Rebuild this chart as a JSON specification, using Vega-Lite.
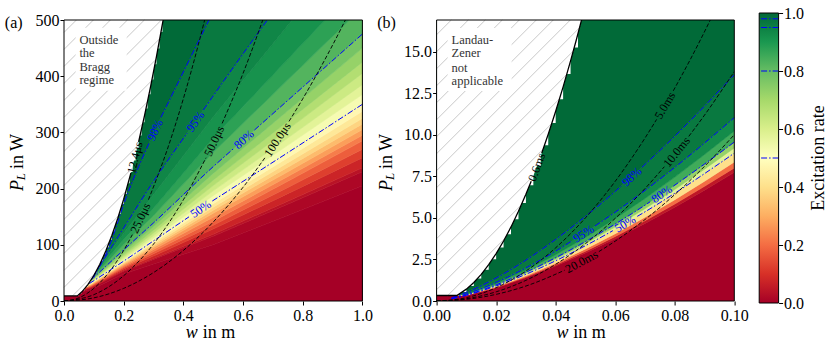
{
"$schema":"https://vega.github.io/schema/vega-lite/v6.json",
"background":"white",
"padding":{"left":4,"top":5,"right":0,"bottom":0},
"bounds":"flush",
"center":true,
"spacing":24.6,
"config":{"view":{"stroke":null},"font":"Liberation Serif","text":{"font":"Liberation Serif"},"axis":{"domain":false,"grid":false,"ticks":true,"tickColor":"#000","tickSize":4,"tickWidth":1,"labelFont":"Liberation Serif","labelFontSize":16,"labelColor":"#000","labelPadding":1,"labelFlush":false,"labelOverlap":false,"labelBound":false}},
"datasets":{
"bandA":[
{"b":0,"w":0,"l":-50,"h":9.5,"v":0},{"b":0,"w":0.09,"l":-50,"h":20,"v":0},{"b":0,"w":0.2,"l":-50,"h":48,"v":0},{"b":0,"w":0.3,"l":-50,"h":66,"v":0},{"b":0,"w":0.5,"l":-50,"h":100,"v":0},{"b":0,"w":0.75,"l":-50,"h":152,"v":0},{"b":0,"w":1,"l":-50,"h":205,"v":0},
{"b":1,"w":0,"l":9.5,"h":9.5,"v":0.015},{"b":1,"w":0.09,"l":20,"h":23,"v":0.015},{"b":1,"w":0.2,"l":48,"h":53,"v":0.015},{"b":1,"w":0.3,"l":66,"h":74,"v":0.015},{"b":1,"w":0.5,"l":100,"h":115,"v":0.015},{"b":1,"w":0.75,"l":152,"h":172,"v":0.015},{"b":1,"w":1,"l":205,"h":230,"v":0.015},
{"b":2,"w":0,"l":9.5,"h":9.5,"v":0.04},{"b":2,"w":0.09,"l":23,"h":23.6,"v":0.04},{"b":2,"w":0.2,"l":53,"h":54.1,"v":0.04},{"b":2,"w":0.3,"l":74,"h":75.7,"v":0.04},{"b":2,"w":0.5,"l":115,"h":118.7,"v":0.04},{"b":2,"w":0.75,"l":172,"h":177.4,"v":0.04},{"b":2,"w":1,"l":230,"h":237.1,"v":0.04},
{"b":3,"w":0,"l":9.5,"h":9.5,"v":0.075},{"b":3,"w":0.09,"l":23.6,"h":25,"v":0.075},{"b":3,"w":0.2,"l":54.1,"h":57,"v":0.075},{"b":3,"w":0.3,"l":75.7,"h":80,"v":0.075},{"b":3,"w":0.5,"l":118.7,"h":128,"v":0.075},{"b":3,"w":0.75,"l":177.4,"h":191,"v":0.075},{"b":3,"w":1,"l":237.1,"h":255,"v":0.075},
{"b":4,"w":0,"l":9.5,"h":9.5,"v":0.125},{"b":4,"w":0.09,"l":25,"h":26,"v":0.125},{"b":4,"w":0.2,"l":57,"h":59,"v":0.125},{"b":4,"w":0.3,"l":80,"h":84,"v":0.125},{"b":4,"w":0.5,"l":128,"h":135,"v":0.125},{"b":4,"w":0.75,"l":191,"h":202,"v":0.125},{"b":4,"w":1,"l":255,"h":270,"v":0.125},
{"b":5,"w":0,"l":9.5,"h":9.5,"v":0.175},{"b":5,"w":0.09,"l":26,"h":27,"v":0.175},{"b":5,"w":0.2,"l":59,"h":61,"v":0.175},{"b":5,"w":0.3,"l":84,"h":88,"v":0.175},{"b":5,"w":0.5,"l":135,"h":142,"v":0.175},{"b":5,"w":0.75,"l":202,"h":213,"v":0.175},{"b":5,"w":1,"l":270,"h":285,"v":0.175},
{"b":6,"w":0,"l":9.5,"h":9.5,"v":0.225},{"b":6,"w":0.09,"l":27,"h":28,"v":0.225},{"b":6,"w":0.2,"l":61,"h":63,"v":0.225},{"b":6,"w":0.3,"l":88,"h":91.5,"v":0.225},{"b":6,"w":0.5,"l":142,"h":149,"v":0.225},{"b":6,"w":0.75,"l":213,"h":221.5,"v":0.225},{"b":6,"w":1,"l":285,"h":295,"v":0.225},
{"b":7,"w":0,"l":9.5,"h":9.5,"v":0.275},{"b":7,"w":0.09,"l":28,"h":29,"v":0.275},{"b":7,"w":0.2,"l":63,"h":65,"v":0.275},{"b":7,"w":0.3,"l":91.5,"h":95,"v":0.275},{"b":7,"w":0.5,"l":149,"h":156,"v":0.275},{"b":7,"w":0.75,"l":221.5,"h":230,"v":0.275},{"b":7,"w":1,"l":295,"h":305,"v":0.275},
{"b":8,"w":0,"l":9.5,"h":9.5,"v":0.325},{"b":8,"w":0.09,"l":29,"h":29.75,"v":0.325},{"b":8,"w":0.2,"l":65,"h":66.5,"v":0.325},{"b":8,"w":0.3,"l":95,"h":98,"v":0.325},{"b":8,"w":0.5,"l":156,"h":161.5,"v":0.325},{"b":8,"w":0.75,"l":230,"h":238,"v":0.325},{"b":8,"w":1,"l":305,"h":315,"v":0.325},
{"b":9,"w":0,"l":9.5,"h":9.5,"v":0.375},{"b":9,"w":0.09,"l":29.75,"h":30.5,"v":0.375},{"b":9,"w":0.2,"l":66.5,"h":68,"v":0.375},{"b":9,"w":0.3,"l":98,"h":101,"v":0.375},{"b":9,"w":0.5,"l":161.5,"h":167,"v":0.375},{"b":9,"w":0.75,"l":238,"h":246,"v":0.375},{"b":9,"w":1,"l":315,"h":325,"v":0.375},
{"b":10,"w":0,"l":9.5,"h":9.5,"v":0.425},{"b":10,"w":0.09,"l":30.5,"h":31.25,"v":0.425},{"b":10,"w":0.2,"l":68,"h":69.5,"v":0.425},{"b":10,"w":0.3,"l":101,"h":104,"v":0.425},{"b":10,"w":0.5,"l":167,"h":173,"v":0.425},{"b":10,"w":0.75,"l":246,"h":255,"v":0.425},{"b":10,"w":1,"l":325,"h":337.5,"v":0.425},
{"b":11,"w":0,"l":9.5,"h":9.5,"v":0.475},{"b":11,"w":0.09,"l":31.25,"h":32,"v":0.475},{"b":11,"w":0.2,"l":69.5,"h":71,"v":0.475},{"b":11,"w":0.3,"l":104,"h":107,"v":0.475},{"b":11,"w":0.5,"l":173,"h":179,"v":0.475},{"b":11,"w":0.75,"l":255,"h":264,"v":0.475},{"b":11,"w":1,"l":337.5,"h":350,"v":0.475},
{"b":12,"w":0,"l":9.5,"h":9.5,"v":0.525},{"b":12,"w":0.09,"l":32,"h":33,"v":0.525},{"b":12,"w":0.2,"l":71,"h":74,"v":0.525},{"b":12,"w":0.3,"l":107,"h":111.5,"v":0.525},{"b":12,"w":0.5,"l":179,"h":187.5,"v":0.525},{"b":12,"w":0.75,"l":264,"h":277,"v":0.525},{"b":12,"w":1,"l":350,"h":367.5,"v":0.525},
{"b":13,"w":0,"l":9.5,"h":9.5,"v":0.575},{"b":13,"w":0.09,"l":33,"h":34,"v":0.575},{"b":13,"w":0.2,"l":74,"h":77,"v":0.575},{"b":13,"w":0.3,"l":111.5,"h":116,"v":0.575},{"b":13,"w":0.5,"l":187.5,"h":196,"v":0.575},{"b":13,"w":0.75,"l":277,"h":290,"v":0.575},{"b":13,"w":1,"l":367.5,"h":385,"v":0.575},
{"b":14,"w":0,"l":9.5,"h":9.5,"v":0.625},{"b":14,"w":0.09,"l":34,"h":35,"v":0.625},{"b":14,"w":0.2,"l":77,"h":80,"v":0.625},{"b":14,"w":0.3,"l":116,"h":121,"v":0.625},{"b":14,"w":0.5,"l":196,"h":205.5,"v":0.625},{"b":14,"w":0.75,"l":290,"h":305,"v":0.625},{"b":14,"w":1,"l":385,"h":405,"v":0.625},
{"b":15,"w":0,"l":9.5,"h":9.5,"v":0.675},{"b":15,"w":0.09,"l":35,"h":36,"v":0.675},{"b":15,"w":0.2,"l":80,"h":83,"v":0.675},{"b":15,"w":0.3,"l":121,"h":126,"v":0.675},{"b":15,"w":0.5,"l":205.5,"h":215,"v":0.675},{"b":15,"w":0.75,"l":305,"h":320,"v":0.675},{"b":15,"w":1,"l":405,"h":425,"v":0.675},
{"b":16,"w":0,"l":9.5,"h":9.5,"v":0.725},{"b":16,"w":0.09,"l":36,"h":37,"v":0.725},{"b":16,"w":0.2,"l":83,"h":87,"v":0.725},{"b":16,"w":0.3,"l":126,"h":132.5,"v":0.725},{"b":16,"w":0.5,"l":215,"h":227,"v":0.725},{"b":16,"w":0.75,"l":320,"h":338.5,"v":0.725},{"b":16,"w":1,"l":425,"h":450,"v":0.725},
{"b":17,"w":0,"l":9.5,"h":9.5,"v":0.775},{"b":17,"w":0.09,"l":37,"h":38,"v":0.775},{"b":17,"w":0.2,"l":87,"h":91,"v":0.775},{"b":17,"w":0.3,"l":132.5,"h":139,"v":0.775},{"b":17,"w":0.5,"l":227,"h":239,"v":0.775},{"b":17,"w":0.75,"l":338.5,"h":357,"v":0.775},{"b":17,"w":1,"l":450,"h":475,"v":0.775},
{"b":18,"w":0,"l":9.5,"h":9.5,"v":0.825},{"b":18,"w":0.09,"l":38,"h":39,"v":0.825},{"b":18,"w":0.2,"l":91,"h":100.5,"v":0.825},{"b":18,"w":0.3,"l":139,"h":152,"v":0.825},{"b":18,"w":0.5,"l":239,"h":264.5,"v":0.825},{"b":18,"w":0.75,"l":357,"h":393.5,"v":0.825},{"b":18,"w":1,"l":475,"h":522.5,"v":0.825},
{"b":19,"w":0,"l":9.5,"h":9.5,"v":0.875},{"b":19,"w":0.09,"l":39,"h":40,"v":0.875},{"b":19,"w":0.2,"l":100.5,"h":110,"v":0.875},{"b":19,"w":0.3,"l":152,"h":165,"v":0.875},{"b":19,"w":0.5,"l":264.5,"h":290,"v":0.875},{"b":19,"w":0.75,"l":393.5,"h":430,"v":0.875},{"b":19,"w":1,"l":522.5,"h":570,"v":0.875},
{"b":20,"w":0,"l":9.5,"h":9.5,"v":0.9125},{"b":20,"w":0.09,"l":40,"h":40.5,"v":0.9125},{"b":20,"w":0.2,"l":110,"h":120,"v":0.9125},{"b":20,"w":0.3,"l":165,"h":189,"v":0.9125},{"b":20,"w":0.5,"l":290,"h":327.5,"v":0.9125},{"b":20,"w":0.75,"l":430,"h":490,"v":0.9125},{"b":20,"w":1,"l":570,"h":655,"v":0.9125},
{"b":21,"w":0,"l":9.5,"h":9.5,"v":0.9375},{"b":21,"w":0.09,"l":40.5,"h":41,"v":0.9375},{"b":21,"w":0.2,"l":120,"h":130,"v":0.9375},{"b":21,"w":0.3,"l":189,"h":213,"v":0.9375},{"b":21,"w":0.5,"l":327.5,"h":365,"v":0.9375},{"b":21,"w":0.75,"l":490,"h":550,"v":0.9375},{"b":21,"w":1,"l":655,"h":740,"v":0.9375},
{"b":22,"w":0,"l":9.5,"h":9.5,"v":0.965},{"b":22,"w":0.09,"l":41,"h":44,"v":0.965},{"b":22,"w":0.2,"l":130,"h":172,"v":0.965},{"b":22,"w":0.3,"l":213,"h":300,"v":0.965},{"b":22,"w":0.5,"l":365,"h":515,"v":0.965},{"b":22,"w":0.75,"l":550,"h":800,"v":0.965},{"b":22,"w":1,"l":740,"h":1090,"v":0.965},
{"b":23,"w":0,"l":9.5,"h":2000,"v":0.995},{"b":23,"w":0.09,"l":44,"h":2000,"v":0.995},{"b":23,"w":0.2,"l":172,"h":2000,"v":0.995},{"b":23,"w":0.3,"l":300,"h":2000,"v":0.995},{"b":23,"w":0.5,"l":515,"h":2000,"v":0.995},{"b":23,"w":0.75,"l":800,"h":2000,"v":0.995},{"b":23,"w":1,"l":1090,"h":2000,"v":0.995}
],
"bandB":[
{"b":0,"w":0,"l":-5,"h":0.33,"v":0},{"b":0,"w":0.01,"l":-5,"h":0.34,"v":0},{"b":0,"w":0.02,"l":-5,"h":0.787,"v":0},{"b":0,"w":0.03,"l":-5,"h":1.399,"v":0},{"b":0,"w":0.04,"l":-5,"h":2.107,"v":0},{"b":0,"w":0.05,"l":-5,"h":2.894,"v":0},{"b":0,"w":0.06,"l":-5,"h":3.748,"v":0},{"b":0,"w":0.07,"l":-5,"h":4.666,"v":0},{"b":0,"w":0.08,"l":-5,"h":5.637,"v":0},{"b":0,"w":0.09,"l":-5,"h":6.666,"v":0},{"b":0,"w":0.1,"l":-5,"h":7.736,"v":0},
{"b":1,"w":0,"l":0.33,"h":0.33,"v":0.05},{"b":1,"w":0.01,"l":0.34,"h":0.35,"v":0.05},{"b":1,"w":0.02,"l":0.787,"h":0.815,"v":0.05},{"b":1,"w":0.03,"l":1.399,"h":1.447,"v":0.05},{"b":1,"w":0.04,"l":2.107,"h":2.18,"v":0.05},{"b":1,"w":0.05,"l":2.894,"h":2.993,"v":0.05},{"b":1,"w":0.06,"l":3.748,"h":3.877,"v":0.05},{"b":1,"w":0.07,"l":4.666,"h":4.827,"v":0.05},{"b":1,"w":0.08,"l":5.637,"h":5.831,"v":0.05},{"b":1,"w":0.09,"l":6.666,"h":6.896,"v":0.05},{"b":1,"w":0.1,"l":7.736,"h":8.003,"v":0.05},
{"b":2,"w":0,"l":0.33,"h":0.33,"v":0.2},{"b":2,"w":0.01,"l":0.35,"h":0.36,"v":0.2},{"b":2,"w":0.02,"l":0.815,"h":0.851,"v":0.2},{"b":2,"w":0.03,"l":1.447,"h":1.512,"v":0.2},{"b":2,"w":0.04,"l":2.18,"h":2.277,"v":0.2},{"b":2,"w":0.05,"l":2.993,"h":3.126,"v":0.2},{"b":2,"w":0.06,"l":3.877,"h":4.05,"v":0.2},{"b":2,"w":0.07,"l":4.827,"h":5.041,"v":0.2},{"b":2,"w":0.08,"l":5.831,"h":6.09,"v":0.2},{"b":2,"w":0.09,"l":6.896,"h":7.202,"v":0.2},{"b":2,"w":0.1,"l":8.003,"h":8.358,"v":0.2},
{"b":3,"w":0,"l":0.33,"h":0.33,"v":0.4},{"b":3,"w":0.01,"l":0.36,"h":0.37,"v":0.4},{"b":3,"w":0.02,"l":0.851,"h":0.905,"v":0.4},{"b":3,"w":0.03,"l":1.512,"h":1.608,"v":0.4},{"b":3,"w":0.04,"l":2.277,"h":2.422,"v":0.4},{"b":3,"w":0.05,"l":3.126,"h":3.326,"v":0.4},{"b":3,"w":0.06,"l":4.05,"h":4.308,"v":0.4},{"b":3,"w":0.07,"l":5.041,"h":5.363,"v":0.4},{"b":3,"w":0.08,"l":6.09,"h":6.479,"v":0.4},{"b":3,"w":0.09,"l":7.202,"h":7.662,"v":0.4},{"b":3,"w":0.1,"l":8.358,"h":8.892,"v":0.4},
{"b":4,"w":0,"l":0.33,"h":0.33,"v":0.575},{"b":4,"w":0.01,"l":0.37,"h":0.38,"v":0.575},{"b":4,"w":0.02,"l":0.905,"h":0.937,"v":0.575},{"b":4,"w":0.03,"l":1.608,"h":1.664,"v":0.575},{"b":4,"w":0.04,"l":2.422,"h":2.507,"v":0.575},{"b":4,"w":0.05,"l":3.326,"h":3.442,"v":0.575},{"b":4,"w":0.06,"l":4.308,"h":4.459,"v":0.575},{"b":4,"w":0.07,"l":5.363,"h":5.551,"v":0.575},{"b":4,"w":0.08,"l":6.479,"h":6.706,"v":0.575},{"b":4,"w":0.09,"l":7.662,"h":7.93,"v":0.575},{"b":4,"w":0.1,"l":8.892,"h":9.203,"v":0.575},
{"b":5,"w":0,"l":0.33,"h":0.33,"v":0.725},{"b":5,"w":0.01,"l":0.38,"h":0.4,"v":0.725},{"b":5,"w":0.02,"l":0.937,"h":0.973,"v":0.725},{"b":5,"w":0.03,"l":1.664,"h":1.729,"v":0.725},{"b":5,"w":0.04,"l":2.507,"h":2.604,"v":0.725},{"b":5,"w":0.05,"l":3.442,"h":3.575,"v":0.725},{"b":5,"w":0.06,"l":4.459,"h":4.631,"v":0.725},{"b":5,"w":0.07,"l":5.551,"h":5.765,"v":0.725},{"b":5,"w":0.08,"l":6.706,"h":6.965,"v":0.725},{"b":5,"w":0.09,"l":7.93,"h":8.237,"v":0.725},{"b":5,"w":0.1,"l":9.203,"h":9.559,"v":0.725},
{"b":6,"w":0,"l":0.33,"h":0.33,"v":0.85},{"b":6,"w":0.01,"l":0.4,"h":0.42,"v":0.85},{"b":6,"w":0.02,"l":0.973,"h":1.041,"v":0.85},{"b":6,"w":0.03,"l":1.729,"h":1.849,"v":0.85},{"b":6,"w":0.04,"l":2.604,"h":2.785,"v":0.85},{"b":6,"w":0.05,"l":3.575,"h":3.825,"v":0.85},{"b":6,"w":0.06,"l":4.631,"h":4.954,"v":0.85},{"b":6,"w":0.07,"l":5.765,"h":6.167,"v":0.85},{"b":6,"w":0.08,"l":6.965,"h":7.451,"v":0.85},{"b":6,"w":0.09,"l":8.237,"h":8.811,"v":0.85},{"b":6,"w":0.1,"l":9.559,"h":10.226,"v":0.85},
{"b":7,"w":0,"l":0.33,"h":0.33,"v":0.925},{"b":7,"w":0.01,"l":0.42,"h":0.45,"v":0.925},{"b":7,"w":0.02,"l":1.041,"h":1.122,"v":0.925},{"b":7,"w":0.03,"l":1.849,"h":1.994,"v":0.925},{"b":7,"w":0.04,"l":2.785,"h":3.003,"v":0.925},{"b":7,"w":0.05,"l":3.825,"h":4.124,"v":0.925},{"b":7,"w":0.06,"l":4.954,"h":5.342,"v":0.925},{"b":7,"w":0.07,"l":6.167,"h":6.65,"v":0.925},{"b":7,"w":0.08,"l":7.451,"h":8.034,"v":0.925},{"b":7,"w":0.09,"l":8.811,"h":9.501,"v":0.925},{"b":7,"w":0.1,"l":10.226,"h":11.026,"v":0.925},
{"b":8,"w":0,"l":0.33,"h":0.33,"v":0.965},{"b":8,"w":0.01,"l":0.45,"h":0.52,"v":0.965},{"b":8,"w":0.02,"l":1.122,"h":1.385,"v":0.965},{"b":8,"w":0.03,"l":1.994,"h":2.46,"v":0.965},{"b":8,"w":0.04,"l":3.003,"h":3.706,"v":0.965},{"b":8,"w":0.05,"l":4.124,"h":5.089,"v":0.965},{"b":8,"w":0.06,"l":5.342,"h":6.591,"v":0.965},{"b":8,"w":0.07,"l":6.65,"h":8.205,"v":0.965},{"b":8,"w":0.08,"l":8.034,"h":9.913,"v":0.965},{"b":8,"w":0.09,"l":9.501,"h":11.723,"v":0.965},{"b":8,"w":0.1,"l":11.026,"h":13.605,"v":0.965},
{"b":9,"w":0,"l":0.33,"h":50,"v":0.995},{"b":9,"w":0.01,"l":0.52,"h":50,"v":0.995},{"b":9,"w":0.02,"l":1.385,"h":50,"v":0.995},{"b":9,"w":0.03,"l":2.46,"h":50,"v":0.995},{"b":9,"w":0.04,"l":3.706,"h":50,"v":0.995},{"b":9,"w":0.05,"l":5.089,"h":50,"v":0.995},{"b":9,"w":0.06,"l":6.591,"h":50,"v":0.995},{"b":9,"w":0.07,"l":8.205,"h":50,"v":0.995},{"b":9,"w":0.08,"l":9.913,"h":50,"v":0.995},{"b":9,"w":0.09,"l":11.723,"h":50,"v":0.995},{"b":9,"w":0.1,"l":13.605,"h":50,"v":0.995}
],
"whiteA":[{"w":0,"P":9},{"w":0.0446,"P":9},{"w":0.06,"P":16.31},{"w":0.08,"P":28.99},{"w":0.1,"P":45.3},{"w":0.12,"P":65.23},{"w":0.14,"P":88.79},{"w":0.16,"P":115.97},{"w":0.18,"P":146.77},{"w":0.2,"P":181.2},{"w":0.22,"P":219.3},{"w":0.24,"P":260.9},{"w":0.26,"P":306.2},{"w":0.28,"P":355.2},{"w":0.3,"P":407.7},{"w":0.32,"P":463.9},{"w":0.3322,"P":500}],
"whiteB":[{"w":0,"P":0.33},{"w":0.0068,"P":0.33},{"w":0.01,"P":0.713},{"w":0.0125,"P":1.114},{"w":0.015,"P":1.604},{"w":0.0175,"P":2.184},{"w":0.02,"P":2.852},{"w":0.0225,"P":3.609},{"w":0.025,"P":4.456},{"w":0.0275,"P":5.392},{"w":0.03,"P":6.417},{"w":0.0325,"P":7.531},{"w":0.035,"P":8.734},{"w":0.0375,"P":10.027},{"w":0.04,"P":11.408},{"w":0.0425,"P":12.878},{"w":0.045,"P":14.438},{"w":0.0469,"P":15.683},{"w":0.04869,"P":16.9}],
"notchA":[{"w":0.04,"P":9.17},{"w":0.05,"P":13.7},{"w":0.06,"P":19.14},{"w":0.07,"P":25.48},{"w":0.08,"P":32.73},{"w":0.09,"P":40.88},{"w":0.1,"P":49.94},{"w":0.11,"P":59.91},{"w":0.12,"P":70.78},{"w":0.13,"P":82.56},{"w":0.14,"P":95.24},{"w":0.15,"P":108.83},{"w":0.16,"P":123.33},{"w":0.17,"P":138.73},{"w":0.18,"P":155.04},{"w":0.19,"P":172.25},{"w":0.2,"P":190.37},{"w":0.21,"P":209.4},{"w":0.22,"P":229.33},{"w":0.23,"P":250.17},{"w":0.24,"P":271.91},{"w":0.25,"P":294.56},{"w":0.26,"P":318.12},{"w":0.27,"P":342.58},{"w":0.28,"P":367.95},{"w":0.29,"P":394.22},{"w":0.3,"P":421.4},{"w":0.31,"P":449.49},{"w":0.32,"P":478.48},{"w":0.33,"P":500}],
"notchB":[{"w":0.0075,"P":0.546},{"w":0.01,"P":0.902},{"w":0.0125,"P":1.348},{"w":0.015,"P":1.883},{"w":0.0175,"P":2.507},{"w":0.02,"P":3.22},{"w":0.0225,"P":4.022},{"w":0.025,"P":4.913},{"w":0.0275,"P":5.893},{"w":0.03,"P":6.963},{"w":0.0325,"P":8.122},{"w":0.035,"P":9.369},{"w":0.0375,"P":10.706},{"w":0.04,"P":12.132},{"w":0.0425,"P":13.647},{"w":0.045,"P":15.252},{"w":0.0475,"P":16.9}],
"hatchA":[{"w1":0,"P1":477.9,"w2":0.04155,"P2":500},{"w1":0,"P1":447.7,"w2":0.09853,"P2":500},{"w1":0,"P1":417.4,"w2":0.1555,"P2":500},{"w1":0,"P1":387.2,"w2":0.2125,"P2":500},{"w1":0,"P1":357,"w2":0.2694,"P2":500},{"w1":0,"P1":326.7,"w2":0.3264,"P2":500},{"w1":0,"P1":296.4,"w2":0.321,"P2":466.9},{"w1":0,"P1":266.2,"w2":0.308,"P2":429.7},{"w1":0,"P1":236,"w2":0.2942,"P2":392.2},{"w1":0,"P1":205.7,"w2":0.2796,"P2":354.2},{"w1":0,"P1":175.5,"w2":0.2639,"P2":315.6},{"w1":0,"P1":145.2,"w2":0.247,"P2":276.3},{"w1":0,"P1":114.9,"w2":0.2283,"P2":236.2},{"w1":0,"P1":84.7,"w2":0.2074,"P2":194.8},{"w1":0,"P1":54.4,"w2":0.1829,"P2":151.6},{"w1":0,"P1":24.2,"w2":0.1523,"P2":105.1},{"w1":0.02835,"P1":9,"w2":0.1044,"P2":49.4}],
"hatchB":[{"w1":0,"P1":16.016,"w2":0.004938,"P2":16.9},{"w1":0,"P1":14.994,"w2":0.010648,"P2":16.9},{"w1":0,"P1":13.971,"w2":0.016359,"P2":16.9},{"w1":0,"P1":12.949,"w2":0.022069,"P2":16.9},{"w1":0,"P1":11.926,"w2":0.02778,"P2":16.9},{"w1":0,"P1":10.904,"w2":0.03349,"P2":16.9},{"w1":0,"P1":9.881,"w2":0.0392,"P2":16.9},{"w1":0,"P1":8.859,"w2":0.044911,"P2":16.9},{"w1":0,"P1":7.837,"w2":0.048005,"P2":16.432},{"w1":0,"P1":6.814,"w2":0.045922,"P2":15.036},{"w1":0,"P1":5.792,"w2":0.043698,"P2":13.616},{"w1":0,"P1":4.769,"w2":0.041307,"P2":12.165},{"w1":0,"P1":3.747,"w2":0.038693,"P2":10.675},{"w1":0,"P1":2.724,"w2":0.035788,"P2":9.132},{"w1":0,"P1":1.702,"w2":0.032466,"P2":7.515},{"w1":0,"P1":0.68,"w2":0.028461,"P2":5.776},{"w1":0.003762,"P1":0.331,"w2":0.023023,"P2":3.779}],
"linesA":[
{"id":"50a","k":"p","w":0.085,"P":31},{"id":"50a","k":"p","w":0.2,"P":71},{"id":"50a","k":"p","w":0.3,"P":107},{"id":"50a","k":"p","w":0.419,"P":149.8},
{"id":"50b","k":"p","w":0.497,"P":177.9},{"id":"50b","k":"p","w":0.75,"P":264},{"id":"50b","k":"p","w":1,"P":350},
{"id":"80a","k":"p","w":0.09,"P":37},{"id":"80a","k":"p","w":0.2,"P":91},{"id":"80a","k":"p","w":0.3,"P":139},{"id":"80a","k":"p","w":0.5,"P":239},{"id":"80a","k":"p","w":0.568,"P":271.1},
{"id":"80b","k":"p","w":0.638,"P":304.1},{"id":"80b","k":"p","w":0.75,"P":357},{"id":"80b","k":"p","w":1,"P":475},
{"id":"95a","k":"p","w":0.095,"P":41},{"id":"95a","k":"p","w":0.2,"P":130},{"id":"95a","k":"p","w":0.3,"P":213},{"id":"95a","k":"p","w":0.413,"P":298.9},
{"id":"95b","k":"p","w":0.467,"P":339.9},{"id":"95b","k":"p","w":0.5,"P":365},{"id":"95b","k":"p","w":0.75,"P":550},
{"id":"98a","k":"p","w":0.1,"P":44},{"id":"98a","k":"p","w":0.13,"P":72},{"id":"98a","k":"p","w":0.16,"P":109},{"id":"98a","k":"p","w":0.2,"P":172},{"id":"98a","k":"p","w":0.285,"P":280.8},
{"id":"98b","k":"p","w":0.325,"P":326.9},{"id":"98b","k":"p","w":0.5,"P":515},
{"id":"t25a","k":"t","w":0,"P":0},{"id":"t25a","k":"t","w":0.05,"P":5.625},{"id":"t25a","k":"t","w":0.1,"P":22.5},{"id":"t25a","k":"t","w":0.15,"P":50.625},{"id":"t25a","k":"t","w":0.2,"P":90},{"id":"t25a","k":"t","w":0.229,"P":118},
{"id":"t25b","k":"t","w":0.283,"P":180.2},{"id":"t25b","k":"t","w":0.35,"P":275.6},{"id":"t25b","k":"t","w":0.4,"P":360},{"id":"t25b","k":"t","w":0.45,"P":455.6},{"id":"t25b","k":"t","w":0.5,"P":562.5},
{"id":"t50a","k":"t","w":0,"P":0},{"id":"t50a","k":"t","w":0.1,"P":11.25},{"id":"t50a","k":"t","w":0.2,"P":45},{"id":"t50a","k":"t","w":0.3,"P":101.25},{"id":"t50a","k":"t","w":0.4,"P":180},{"id":"t50a","k":"t","w":0.476,"P":254.9},
{"id":"t50b","k":"t","w":0.53,"P":316},{"id":"t50b","k":"t","w":0.6,"P":405},{"id":"t50b","k":"t","w":0.7,"P":551.25},
{"id":"t100a","k":"t","w":0,"P":0},{"id":"t100a","k":"t","w":0.1,"P":5.62},{"id":"t100a","k":"t","w":0.2,"P":22.48},{"id":"t100a","k":"t","w":0.3,"P":50.58},{"id":"t100a","k":"t","w":0.4,"P":89.92},{"id":"t100a","k":"t","w":0.5,"P":140.5},{"id":"t100a","k":"t","w":0.6,"P":202.32},{"id":"t100a","k":"t","w":0.676,"P":256.8},
{"id":"t100b","k":"t","w":0.754,"P":319.5},{"id":"t100b","k":"t","w":0.8,"P":359.68},{"id":"t100b","k":"t","w":0.9,"P":455.22},{"id":"t100b","k":"t","w":1,"P":562},
{"id":"ba","k":"b","w":0,"P":9},{"id":"ba","k":"b","w":0.0446,"P":9},{"id":"ba","k":"b","w":0.06,"P":16.31},{"id":"ba","k":"b","w":0.08,"P":28.99},{"id":"ba","k":"b","w":0.1,"P":45.3},{"id":"ba","k":"b","w":0.12,"P":65.23},{"id":"ba","k":"b","w":0.14,"P":88.79},{"id":"ba","k":"b","w":0.16,"P":115.97},{"id":"ba","k":"b","w":0.18,"P":146.77},{"id":"ba","k":"b","w":0.2,"P":181.2},{"id":"ba","k":"b","w":0.2243,"P":227.9},
{"id":"bb","k":"b","w":0.25,"P":283.1},{"id":"bb","k":"b","w":0.27,"P":330.2},{"id":"bb","k":"b","w":0.29,"P":381},{"id":"bb","k":"b","w":0.31,"P":435.3},{"id":"bb","k":"b","w":0.3322,"P":499.9}
],
"linesB":[
{"id":"50a","k":"p","w":0.005,"P":0.127},{"id":"50a","k":"p","w":0.01,"P":0.339},{"id":"50a","k":"p","w":0.02,"P":0.905},{"id":"50a","k":"p","w":0.03,"P":1.608},{"id":"50a","k":"p","w":0.04,"P":2.422},{"id":"50a","k":"p","w":0.05,"P":3.326},{"id":"50a","k":"p","w":0.0592,"P":4.23},
{"id":"50b","k":"p","w":0.0674,"P":5.09},{"id":"50b","k":"p","w":0.07,"P":5.363},{"id":"50b","k":"p","w":0.08,"P":6.479},{"id":"50b","k":"p","w":0.09,"P":7.662},{"id":"50b","k":"p","w":0.1,"P":8.892},
{"id":"80a","k":"p","w":0.005,"P":0.137},{"id":"80a","k":"p","w":0.01,"P":0.364},{"id":"80a","k":"p","w":0.02,"P":0.973},{"id":"80a","k":"p","w":0.03,"P":1.729},{"id":"80a","k":"p","w":0.04,"P":2.604},{"id":"80a","k":"p","w":0.05,"P":3.575},{"id":"80a","k":"p","w":0.06,"P":4.631},{"id":"80a","k":"p","w":0.07,"P":5.765},{"id":"80a","k":"p","w":0.0717,"P":5.968},
{"id":"80b","k":"p","w":0.0795,"P":6.905},{"id":"80b","k":"p","w":0.09,"P":8.237},{"id":"80b","k":"p","w":0.1,"P":9.559},
{"id":"95a","k":"p","w":0.005,"P":0.157},{"id":"95a","k":"p","w":0.01,"P":0.42},{"id":"95a","k":"p","w":0.02,"P":1.122},{"id":"95a","k":"p","w":0.03,"P":1.994},{"id":"95a","k":"p","w":0.04,"P":3.003},{"id":"95a","k":"p","w":0.0454,"P":3.608},
{"id":"95b","k":"p","w":0.0532,"P":4.514},{"id":"95b","k":"p","w":0.06,"P":5.342},{"id":"95b","k":"p","w":0.07,"P":6.65},{"id":"95b","k":"p","w":0.08,"P":8.034},{"id":"95b","k":"p","w":0.09,"P":9.501},{"id":"95b","k":"p","w":0.1,"P":11.026},
{"id":"98a","k":"p","w":0.005,"P":0.194},{"id":"98a","k":"p","w":0.01,"P":0.519},{"id":"98a","k":"p","w":0.02,"P":1.385},{"id":"98a","k":"p","w":0.03,"P":2.46},{"id":"98a","k":"p","w":0.04,"P":3.706},{"id":"98a","k":"p","w":0.05,"P":5.089},{"id":"98a","k":"p","w":0.06,"P":6.591},{"id":"98a","k":"p","w":0.062,"P":6.914},
{"id":"98b","k":"p","w":0.069,"P":8.045},{"id":"98b","k":"p","w":0.08,"P":9.913},{"id":"98b","k":"p","w":0.09,"P":11.723},{"id":"98b","k":"p","w":0.1,"P":13.605},
{"id":"t20a","k":"t","w":0,"P":0},{"id":"t20a","k":"t","w":0.01,"P":0.1},{"id":"t20a","k":"t","w":0.02,"P":0.4},{"id":"t20a","k":"t","w":0.03,"P":0.9},{"id":"t20a","k":"t","w":0.043,"P":1.849},
{"id":"t20b","k":"t","w":0.0545,"P":2.97},{"id":"t20b","k":"t","w":0.06,"P":3.6},{"id":"t20b","k":"t","w":0.07,"P":4.9},{"id":"t20b","k":"t","w":0.08,"P":6.4},{"id":"t20b","k":"t","w":0.09,"P":8.1},{"id":"t20b","k":"t","w":0.1,"P":10},
{"id":"t10a","k":"t","w":0,"P":0},{"id":"t10a","k":"t","w":0.01,"P":0.138},{"id":"t10a","k":"t","w":0.02,"P":0.552},{"id":"t10a","k":"t","w":0.03,"P":1.242},{"id":"t10a","k":"t","w":0.04,"P":2.208},{"id":"t10a","k":"t","w":0.05,"P":3.45},{"id":"t10a","k":"t","w":0.06,"P":4.968},{"id":"t10a","k":"t","w":0.07,"P":6.762},{"id":"t10a","k":"t","w":0.0765,"P":8.076},
{"id":"t10b","k":"t","w":0.0847,"P":9.9},{"id":"t10b","k":"t","w":0.09,"P":11.178},{"id":"t10b","k":"t","w":0.1,"P":13.8},
{"id":"t5a","k":"t","w":0,"P":0},{"id":"t5a","k":"t","w":0.01,"P":0.2},{"id":"t5a","k":"t","w":0.02,"P":0.8},{"id":"t5a","k":"t","w":0.03,"P":1.8},{"id":"t5a","k":"t","w":0.04,"P":3.2},{"id":"t5a","k":"t","w":0.05,"P":5},{"id":"t5a","k":"t","w":0.06,"P":7.2},{"id":"t5a","k":"t","w":0.07,"P":9.8},{"id":"t5a","k":"t","w":0.0739,"P":10.92},
{"id":"t5b","k":"t","w":0.0795,"P":12.64},{"id":"t5b","k":"t","w":0.085,"P":14.45},{"id":"t5b","k":"t","w":0.0919,"P":16.89},{"id":"t5b","k":"t","w":0.095,"P":18.05},
{"id":"ba","k":"b","w":0,"P":0.33},{"id":"ba","k":"b","w":0.0068,"P":0.33},{"id":"ba","k":"b","w":0.01,"P":0.713},{"id":"ba","k":"b","w":0.0125,"P":1.114},{"id":"ba","k":"b","w":0.015,"P":1.604},{"id":"ba","k":"b","w":0.0175,"P":2.184},{"id":"ba","k":"b","w":0.02,"P":2.852},{"id":"ba","k":"b","w":0.0225,"P":3.609},{"id":"ba","k":"b","w":0.025,"P":4.456},{"id":"ba","k":"b","w":0.0275,"P":5.392},{"id":"ba","k":"b","w":0.03,"P":6.417},{"id":"ba","k":"b","w":0.03178,"P":7.201},
{"id":"bb","k":"b","w":0.03533,"P":8.9},{"id":"bb","k":"b","w":0.0375,"P":10.027},{"id":"bb","k":"b","w":0.04,"P":11.408},{"id":"bb","k":"b","w":0.0425,"P":12.878},{"id":"bb","k":"b","w":0.045,"P":14.438},{"id":"bb","k":"b","w":0.0469,"P":15.683},{"id":"bb","k":"b","w":0.04869,"P":16.903}
],
"labA":[{"i":0,"t":"50%","w":0.458,"P":163.9},{"i":1,"t":"80%","w":0.603,"P":287.6},{"i":2,"t":"95%","w":0.44,"P":319.4},{"i":3,"t":"98%","w":0.305,"P":304},{"i":4,"t":"12.4μs","w":0.2373,"P":255},{"i":5,"t":"25.0μs","w":0.256,"P":147.5},{"i":6,"t":"50.0μs","w":0.503,"P":284.6},{"i":7,"t":"100.0μs","w":0.715,"P":287.3}],
"labB":[{"i":0,"t":"50%","w":0.0633,"P":4.65},{"i":1,"t":"80%","w":0.0756,"P":6.437},{"i":2,"t":"95%","w":0.0493,"P":4.046},{"i":3,"t":"98%","w":0.0655,"P":7.479},{"i":4,"t":"0.6ms","w":0.0336,"P":8.05},{"i":5,"t":"5.0ms","w":0.0767,"P":11.766},{"i":6,"t":"10.0ms","w":0.0806,"P":8.965},{"i":7,"t":"20.0ms","w":0.0487,"P":2.372}],
"ttlA":[{"i":0,"t":"(a)","w":-0.1686,"P":495.5},{"i":1,"t":"P","w":-0.1384,"P":205.5},{"i":2,"t":"L","w":-0.13,"P":221.5},{"i":3,"t":"in W","w":-0.1384,"P":266},{"i":4,"t":"w","w":0.4078,"P":-66.7},{"i":5,"t":"in m","w":0.4648,"P":-66.7}],
"ttlB":[{"i":0,"t":"(b)","w":-0.0168,"P":16.69},{"i":1,"t":"P","w":-0.01512,"P":6.947},{"i":2,"t":"L","w":-0.01428,"P":7.488},{"i":3,"t":"in W","w":-0.01512,"P":8.991},{"i":4,"t":"w","w":0.04031,"P":-2.255},{"i":5,"t":"in m","w":0.0459,"P":-2.255}]
},
"hconcat":[
{"width":347.1,"height":281,"layer":[
{"data":{"name":"bandA"},"mark":{"type":"area","clip":true,"strokeWidth":0.6},"encoding":{"x":{"field":"w","type":"quantitative","title":null,"scale":{"domain":[0,1],"range":[0,298.4],"nice":false,"zero":false},"axis":{"values":[0,0.2,0.4,0.6,0.8,1],"format":".1f","title":null,"labelPadding":2}},"y":{"field":"l","type":"quantitative","title":null,"scale":{"domain":[0,500],"nice":false,"zero":false},"axis":{"values":[0,100,200,300,400,500],"format":"d","title":null}},"y2":{"field":"h"},"color":{"field":"v","type":"quantitative","scale":{"domain":[0,0.1,0.2,0.3,0.4,0.5,0.6,0.7,0.8,0.9,1],"range":["#a50026","#d73027","#f46d43","#fdae61","#fee08b","#ffffbf","#d9ef8b","#a6d96a","#66bd63","#1a9850","#006837"],"interpolate":"rgb"},"legend":null},"stroke":{"field":"v","type":"quantitative","scale":{"domain":[0,0.1,0.2,0.3,0.4,0.5,0.6,0.7,0.8,0.9,1],"range":["#a50026","#d73027","#f46d43","#fdae61","#fee08b","#ffffbf","#d9ef8b","#a6d96a","#66bd63","#1a9850","#006837"],"interpolate":"rgb"},"legend":null},"detail":{"field":"b","type":"nominal"}}},
{"data":{"name":"notchA"},"mark":{"type":"area","interpolate":"step-after","color":"white","clip":true},"encoding":{"x":{"field":"w","type":"quantitative","title":null},"y":{"field":"P","type":"quantitative","title":null},"y2":{"datum":500}}},
{"data":{"name":"whiteA"},"mark":{"type":"area","color":"white","clip":true},"encoding":{"x":{"field":"w","type":"quantitative","title":null},"y":{"field":"P","type":"quantitative","title":null},"y2":{"datum":500}}},
{"data":{"name":"hatchA"},"mark":{"type":"rule","color":"#c8c8c8","strokeWidth":1},"encoding":{"x":{"field":"w1","type":"quantitative","title":null},"y":{"field":"P1","type":"quantitative","title":null},"x2":{"field":"w2"},"y2":{"field":"P2"}}},
{"data":{"values":[{"w1":0.039,"w2":0.21,"P1":374,"P2":486}]},"mark":{"type":"rect","color":"white"},"encoding":{"x":{"field":"w1","type":"quantitative","title":null},"x2":{"field":"w2"},"y":{"field":"P1","type":"quantitative","title":null},"y2":{"field":"P2"}}},
{"data":{"values":[{"t":"Outside","w":0.0516,"P":464.4},{"t":"the","w":0.0516,"P":440.7},{"t":"Bragg","w":0.0516,"P":417.1},{"t":"regime","w":0.0516,"P":393.2}]},"mark":{"type":"text","align":"left","baseline":"middle","fontSize":12.5,"color":"#333","font":"Liberation Serif"},"encoding":{"x":{"field":"w","type":"quantitative","title":null},"y":{"field":"P","type":"quantitative","title":null},"text":{"field":"t"}}},
{"data":{"name":"linesA"},"transform":[{"filter":"datum.k=='p'"}],"mark":{"type":"line","color":"#0000ff","strokeWidth":1,"strokeDash":[6,2,1.5,2],"interpolate":"monotone","clip":true},"encoding":{"x":{"field":"w","type":"quantitative","title":null},"y":{"field":"P","type":"quantitative","title":null},"detail":{"field":"id","type":"nominal"}}},
{"data":{"name":"linesA"},"transform":[{"filter":"datum.k=='t'"}],"mark":{"type":"line","color":"#000","strokeWidth":0.9,"strokeDash":[4,2],"interpolate":"monotone","clip":true},"encoding":{"x":{"field":"w","type":"quantitative","title":null},"y":{"field":"P","type":"quantitative","title":null},"detail":{"field":"id","type":"nominal"}}},
{"data":{"name":"linesA"},"transform":[{"filter":"datum.k=='b'"}],"mark":{"type":"line","color":"#000","strokeWidth":1.3,"clip":true},"encoding":{"x":{"field":"w","type":"quantitative","title":null},"y":{"field":"P","type":"quantitative","title":null},"detail":{"field":"id","type":"nominal"}}},
{"data":{"values":[{"w1":0,"w2":1,"P1":0,"P2":500}]},"mark":{"type":"rect","filled":false,"color":"#000","strokeWidth":1},"encoding":{"x":{"field":"w1","type":"quantitative","title":null},"x2":{"field":"w2"},"y":{"field":"P1","type":"quantitative","title":null},"y2":{"field":"P2"}}},
{"data":{"name":"labA"},"transform":[{"filter":"datum.i==0"}],"mark":{"type":"text","angle":-34.1,"color":"#0000ff","fontSize":12,"font":"Liberation Serif"},"encoding":{"x":{"field":"w","type":"quantitative","title":null},"y":{"field":"P","type":"quantitative","title":null},"text":{"field":"t"}}},
{"data":{"name":"labA"},"transform":[{"filter":"datum.i==1"}],"mark":{"type":"text","angle":-41.6,"color":"#0000ff","fontSize":12,"font":"Liberation Serif"},"encoding":{"x":{"field":"w","type":"quantitative","title":null},"y":{"field":"P","type":"quantitative","title":null},"text":{"field":"t"}}},
{"data":{"name":"labA"},"transform":[{"filter":"datum.i==2"}],"mark":{"type":"text","angle":-55.1,"color":"#0000ff","fontSize":12,"font":"Liberation Serif"},"encoding":{"x":{"field":"w","type":"quantitative","title":null},"y":{"field":"P","type":"quantitative","title":null},"text":{"field":"t"}}},
{"data":{"name":"labA"},"transform":[{"filter":"datum.i==3"}],"mark":{"type":"text","angle":-65.2,"color":"#0000ff","fontSize":12,"font":"Liberation Serif"},"encoding":{"x":{"field":"w","type":"quantitative","title":null},"y":{"field":"P","type":"quantitative","title":null},"text":{"field":"t"}}},
{"data":{"name":"labA"},"transform":[{"filter":"datum.i==4"}],"mark":{"type":"text","angle":-76.1,"color":"#000","fontSize":12,"font":"Liberation Serif"},"encoding":{"x":{"field":"w","type":"quantitative","title":null},"y":{"field":"P","type":"quantitative","title":null},"text":{"field":"t"}}},
{"data":{"name":"labA"},"transform":[{"filter":"datum.i==5"}],"mark":{"type":"text","angle":-65.2,"color":"#000","fontSize":12,"font":"Liberation Serif"},"encoding":{"x":{"field":"w","type":"quantitative","title":null},"y":{"field":"P","type":"quantitative","title":null},"text":{"field":"t"}}},
{"data":{"name":"labA"},"transform":[{"filter":"datum.i==6"}],"mark":{"type":"text","angle":-64.9,"color":"#000","fontSize":12,"font":"Liberation Serif"},"encoding":{"x":{"field":"w","type":"quantitative","title":null},"y":{"field":"P","type":"quantitative","title":null},"text":{"field":"t"}}},
{"data":{"name":"labA"},"transform":[{"filter":"datum.i==7"}],"mark":{"type":"text","angle":-56.5,"color":"#000","fontSize":12,"font":"Liberation Serif"},"encoding":{"x":{"field":"w","type":"quantitative","title":null},"y":{"field":"P","type":"quantitative","title":null},"text":{"field":"t"}}},
{"data":{"name":"ttlA"},"transform":[{"filter":"datum.i==0"}],"mark":{"type":"text","fontSize":16,"align":"center","baseline":"middle","color":"#000","font":"Liberation Serif"},"encoding":{"x":{"field":"w","type":"quantitative","title":null},"y":{"field":"P","type":"quantitative","title":null},"text":{"field":"t"}}},
{"data":{"name":"ttlA"},"transform":[{"filter":"datum.i==1"}],"mark":{"type":"text","fontSize":18,"fontStyle":"italic","angle":-90,"align":"center","baseline":"alphabetic","color":"#000","font":"Liberation Serif"},"encoding":{"x":{"field":"w","type":"quantitative","title":null},"y":{"field":"P","type":"quantitative","title":null},"text":{"field":"t"}}},
{"data":{"name":"ttlA"},"transform":[{"filter":"datum.i==2"}],"mark":{"type":"text","fontSize":13,"fontStyle":"italic","angle":-90,"align":"center","baseline":"alphabetic","color":"#000","font":"Liberation Serif"},"encoding":{"x":{"field":"w","type":"quantitative","title":null},"y":{"field":"P","type":"quantitative","title":null},"text":{"field":"t"}}},
{"data":{"name":"ttlA"},"transform":[{"filter":"datum.i==3"}],"mark":{"type":"text","fontSize":18,"angle":-90,"align":"center","baseline":"alphabetic","color":"#000","font":"Liberation Serif"},"encoding":{"x":{"field":"w","type":"quantitative","title":null},"y":{"field":"P","type":"quantitative","title":null},"text":{"field":"t"}}},
{"data":{"name":"ttlA"},"transform":[{"filter":"datum.i==4"}],"mark":{"type":"text","fontSize":18,"fontStyle":"italic","align":"left","baseline":"alphabetic","color":"#000","font":"Liberation Serif"},"encoding":{"x":{"field":"w","type":"quantitative","title":null},"y":{"field":"P","type":"quantitative","title":null},"text":{"field":"t"}}},
{"data":{"name":"ttlA"},"transform":[{"filter":"datum.i==5"}],"mark":{"type":"text","fontSize":18,"align":"left","baseline":"alphabetic","color":"#000","font":"Liberation Serif"},"encoding":{"x":{"field":"w","type":"quantitative","title":null},"y":{"field":"P","type":"quantitative","title":null},"text":{"field":"t"}}}
]},
{"width":297.7,"height":281,"layer":[
{"data":{"name":"bandB"},"mark":{"type":"area","clip":true,"strokeWidth":0.6},"encoding":{"x":{"field":"w","type":"quantitative","title":null,"scale":{"domain":[0,0.1],"nice":false,"zero":false},"axis":{"values":[0,0.02,0.04,0.06,0.08,0.1],"format":".2f","title":null,"labelPadding":2}},"y":{"field":"l","type":"quantitative","title":null,"scale":{"domain":[0,16.9],"nice":false,"zero":false},"axis":{"values":[0,2.5,5,7.5,10,12.5,15],"format":".1f","title":null}},"y2":{"field":"h"},"color":{"field":"v","type":"quantitative","scale":{"domain":[0,0.1,0.2,0.3,0.4,0.5,0.6,0.7,0.8,0.9,1],"range":["#a50026","#d73027","#f46d43","#fdae61","#fee08b","#ffffbf","#d9ef8b","#a6d96a","#66bd63","#1a9850","#006837"],"interpolate":"rgb"},"legend":null},"stroke":{"field":"v","type":"quantitative","scale":{"domain":[0,0.1,0.2,0.3,0.4,0.5,0.6,0.7,0.8,0.9,1],"range":["#a50026","#d73027","#f46d43","#fdae61","#fee08b","#ffffbf","#d9ef8b","#a6d96a","#66bd63","#1a9850","#006837"],"interpolate":"rgb"},"legend":null},"detail":{"field":"b","type":"nominal"}}},
{"data":{"name":"notchB"},"mark":{"type":"area","interpolate":"step-after","color":"white","clip":true},"encoding":{"x":{"field":"w","type":"quantitative","title":null},"y":{"field":"P","type":"quantitative","title":null},"y2":{"datum":16.9}}},
{"data":{"name":"whiteB"},"mark":{"type":"area","color":"white","clip":true},"encoding":{"x":{"field":"w","type":"quantitative","title":null},"y":{"field":"P","type":"quantitative","title":null},"y2":{"datum":16.9}}},
{"data":{"name":"hatchB"},"mark":{"type":"rule","color":"#c8c8c8","strokeWidth":1},"encoding":{"x":{"field":"w1","type":"quantitative","title":null},"y":{"field":"P1","type":"quantitative","title":null},"x2":{"field":"w2"},"y2":{"field":"P2"}}},
{"data":{"values":[{"w1":0.0037,"w2":0.0252,"P1":12.63,"P2":16.42}]},"mark":{"type":"rect","color":"white"},"encoding":{"x":{"field":"w1","type":"quantitative","title":null},"x2":{"field":"w2"},"y":{"field":"P1","type":"quantitative","title":null},"y2":{"field":"P2"}}},
{"data":{"values":[{"t":"Landau-","w":0.00504,"P":15.7},{"t":"Zener","w":0.00504,"P":14.9},{"t":"not","w":0.00504,"P":14.03},{"t":"applicable","w":0.00504,"P":13.23}]},"mark":{"type":"text","align":"left","baseline":"middle","fontSize":12.5,"color":"#333","font":"Liberation Serif"},"encoding":{"x":{"field":"w","type":"quantitative","title":null},"y":{"field":"P","type":"quantitative","title":null},"text":{"field":"t"}}},
{"data":{"name":"linesB"},"transform":[{"filter":"datum.k=='p'"}],"mark":{"type":"line","color":"#0000ff","strokeWidth":1,"strokeDash":[6,2,1.5,2],"interpolate":"monotone","clip":true},"encoding":{"x":{"field":"w","type":"quantitative","title":null},"y":{"field":"P","type":"quantitative","title":null},"detail":{"field":"id","type":"nominal"}}},
{"data":{"name":"linesB"},"transform":[{"filter":"datum.k=='t'"}],"mark":{"type":"line","color":"#000","strokeWidth":0.9,"strokeDash":[4,2],"interpolate":"monotone","clip":true},"encoding":{"x":{"field":"w","type":"quantitative","title":null},"y":{"field":"P","type":"quantitative","title":null},"detail":{"field":"id","type":"nominal"}}},
{"data":{"name":"linesB"},"transform":[{"filter":"datum.k=='b'"}],"mark":{"type":"line","color":"#000","strokeWidth":1.3,"clip":true},"encoding":{"x":{"field":"w","type":"quantitative","title":null},"y":{"field":"P","type":"quantitative","title":null},"detail":{"field":"id","type":"nominal"}}},
{"data":{"values":[{"w1":0,"w2":0.1,"P1":0,"P2":16.9}]},"mark":{"type":"rect","filled":false,"color":"#000","strokeWidth":1},"encoding":{"x":{"field":"w1","type":"quantitative","title":null},"x2":{"field":"w2"},"y":{"field":"P1","type":"quantitative","title":null},"y2":{"field":"P2"}}},
{"data":{"name":"labB"},"transform":[{"filter":"datum.i==0"}],"mark":{"type":"text","angle":-30.2,"color":"#0000ff","fontSize":12,"font":"Liberation Serif"},"encoding":{"x":{"field":"w","type":"quantitative","title":null},"y":{"field":"P","type":"quantitative","title":null},"text":{"field":"t"}}},
{"data":{"name":"labB"},"transform":[{"filter":"datum.i==1"}],"mark":{"type":"text","angle":-34,"color":"#0000ff","fontSize":12,"font":"Liberation Serif"},"encoding":{"x":{"field":"w","type":"quantitative","title":null},"y":{"field":"P","type":"quantitative","title":null},"text":{"field":"t"}}},
{"data":{"name":"labB"},"transform":[{"filter":"datum.i==2"}],"mark":{"type":"text","angle":-33,"color":"#0000ff","fontSize":12,"font":"Liberation Serif"},"encoding":{"x":{"field":"w","type":"quantitative","title":null},"y":{"field":"P","type":"quantitative","title":null},"text":{"field":"t"}}},
{"data":{"name":"labB"},"transform":[{"filter":"datum.i==3"}],"mark":{"type":"text","angle":-42.2,"color":"#0000ff","fontSize":12,"font":"Liberation Serif"},"encoding":{"x":{"field":"w","type":"quantitative","title":null},"y":{"field":"P","type":"quantitative","title":null},"text":{"field":"t"}}},
{"data":{"name":"labB"},"transform":[{"filter":"datum.i==4"}],"mark":{"type":"text","angle":-69.5,"color":"#000","fontSize":12,"font":"Liberation Serif"},"encoding":{"x":{"field":"w","type":"quantitative","title":null},"y":{"field":"P","type":"quantitative","title":null},"text":{"field":"t"}}},
{"data":{"name":"labB"},"transform":[{"filter":"datum.i==5"}],"mark":{"type":"text","angle":-59.7,"color":"#000","fontSize":12,"font":"Liberation Serif"},"encoding":{"x":{"field":"w","type":"quantitative","title":null},"y":{"field":"P","type":"quantitative","title":null},"text":{"field":"t"}}},
{"data":{"name":"labB"},"transform":[{"filter":"datum.i==6"}],"mark":{"type":"text","angle":-51.2,"color":"#000","fontSize":12,"font":"Liberation Serif"},"encoding":{"x":{"field":"w","type":"quantitative","title":null},"y":{"field":"P","type":"quantitative","title":null},"text":{"field":"t"}}},
{"data":{"name":"labB"},"transform":[{"filter":"datum.i==7"}],"mark":{"type":"text","angle":-28.5,"color":"#000","fontSize":12,"font":"Liberation Serif"},"encoding":{"x":{"field":"w","type":"quantitative","title":null},"y":{"field":"P","type":"quantitative","title":null},"text":{"field":"t"}}},
{"data":{"name":"ttlB"},"transform":[{"filter":"datum.i==0"}],"mark":{"type":"text","fontSize":16,"align":"center","baseline":"middle","color":"#000","font":"Liberation Serif"},"encoding":{"x":{"field":"w","type":"quantitative","title":null},"y":{"field":"P","type":"quantitative","title":null},"text":{"field":"t"}}},
{"data":{"name":"ttlB"},"transform":[{"filter":"datum.i==1"}],"mark":{"type":"text","fontSize":18,"fontStyle":"italic","angle":-90,"align":"center","baseline":"alphabetic","color":"#000","font":"Liberation Serif"},"encoding":{"x":{"field":"w","type":"quantitative","title":null},"y":{"field":"P","type":"quantitative","title":null},"text":{"field":"t"}}},
{"data":{"name":"ttlB"},"transform":[{"filter":"datum.i==2"}],"mark":{"type":"text","fontSize":13,"fontStyle":"italic","angle":-90,"align":"center","baseline":"alphabetic","color":"#000","font":"Liberation Serif"},"encoding":{"x":{"field":"w","type":"quantitative","title":null},"y":{"field":"P","type":"quantitative","title":null},"text":{"field":"t"}}},
{"data":{"name":"ttlB"},"transform":[{"filter":"datum.i==3"}],"mark":{"type":"text","fontSize":18,"angle":-90,"align":"center","baseline":"alphabetic","color":"#000","font":"Liberation Serif"},"encoding":{"x":{"field":"w","type":"quantitative","title":null},"y":{"field":"P","type":"quantitative","title":null},"text":{"field":"t"}}},
{"data":{"name":"ttlB"},"transform":[{"filter":"datum.i==4"}],"mark":{"type":"text","fontSize":18,"fontStyle":"italic","align":"left","baseline":"alphabetic","color":"#000","font":"Liberation Serif"},"encoding":{"x":{"field":"w","type":"quantitative","title":null},"y":{"field":"P","type":"quantitative","title":null},"text":{"field":"t"}}},
{"data":{"name":"ttlB"},"transform":[{"filter":"datum.i==5"}],"mark":{"type":"text","fontSize":18,"align":"left","baseline":"alphabetic","color":"#000","font":"Liberation Serif"},"encoding":{"x":{"field":"w","type":"quantitative","title":null},"y":{"field":"P","type":"quantitative","title":null},"text":{"field":"t"}}}
]},
{"width":19.4,"height":295,"layer":[
{"data":{"values":[{"x0":0,"x1":1,"v0":0,"v1":1}]},"mark":{"type":"rect","color":{"gradient":"linear","x1":0,"y1":1,"x2":0,"y2":0,"stops":[{"offset":0,"color":"#a50026"},{"offset":0.1,"color":"#d73027"},{"offset":0.2,"color":"#f46d43"},{"offset":0.3,"color":"#fdae61"},{"offset":0.4,"color":"#fee08b"},{"offset":0.5,"color":"#ffffbf"},{"offset":0.6,"color":"#d9ef8b"},{"offset":0.7,"color":"#a6d96a"},{"offset":0.8,"color":"#66bd63"},{"offset":0.9,"color":"#1a9850"},{"offset":1,"color":"#006837"}]}},"encoding":{"x":{"field":"x0","type":"quantitative","title":null,"scale":{"domain":[0,1],"nice":false,"zero":false},"axis":null},"x2":{"field":"x1"},"y":{"field":"v0","type":"quantitative","title":null,"scale":{"domain":[-0.01724,1],"nice":false,"zero":false},"axis":{"orient":"right","values":[0,0.2,0.4,0.6,0.8,1],"format":".1f","title":null}},"y2":{"field":"v1"}}},
{"data":{"values":[{"v":0.5},{"v":0.8},{"v":0.95},{"v":0.98}]},"mark":{"type":"rule","color":"#0000ff","strokeWidth":1,"strokeDash":[6,2,1.5,2]},"encoding":{"y":{"field":"v","type":"quantitative","title":null}}},
{"data":{"values":[{"x0":0,"x1":1,"v0":0,"v1":1}]},"mark":{"type":"rect","filled":false,"color":"#000","strokeWidth":1},"encoding":{"x":{"field":"x0","type":"quantitative","title":null},"x2":{"field":"x1"},"y":{"field":"v0","type":"quantitative","title":null},"y2":{"field":"v1"}}},
{"data":{"values":[{"t":"Excitation rate","x":3.077,"v":0.5}]},"mark":{"type":"text","angle":-90,"fontSize":18,"align":"center","baseline":"middle","color":"#000","font":"Liberation Serif"},"encoding":{"x":{"field":"x","type":"quantitative","title":null},"y":{"field":"v","type":"quantitative","title":null},"text":{"field":"t"}}}
]}
]
}
